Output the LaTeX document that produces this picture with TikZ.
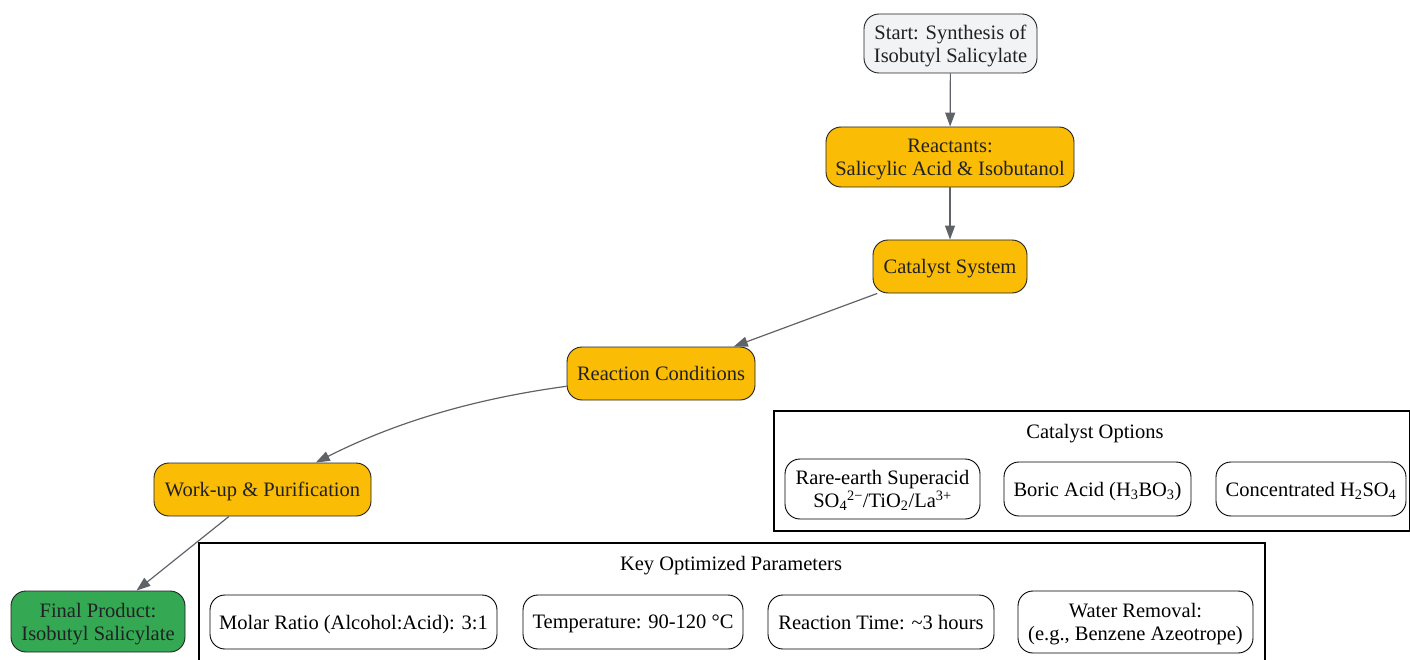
\documentclass[tikz,border=0pt]{standalone}
\usepackage{fontspec}
\setmainfont{Liberation Serif}
\usetikzlibrary{arrows.meta}
\definecolor{amber}{HTML}{FBBC05}
\definecolor{gstart}{HTML}{F1F3F4}
\definecolor{gfinal}{HTML}{34A853}
\definecolor{edgec}{HTML}{5F6368}
\definecolor{txt}{HTML}{202124}
\begin{document}
\begin{tikzpicture}[x=1pt,y=-1pt,
  box/.style={draw=txt, line width=0.9pt, rounded corners=15pt, align=center, inner sep=0pt,
    font=\fontsize{20.5}{23}\selectfont, text=txt, text depth=0pt},
  pbox/.style={box, fill=white, draw=black, text=black},
  cluster/.style={draw=black, line width=1.1pt, inner sep=0pt},
  ctitle/.style={font=\fontsize{20.5}{23}\selectfont, inner sep=0pt},
  flow/.style={draw=edgec, line width=1.2pt, -{Triangle[length=14pt,width=10pt]}}]
\useasboundingbox (0,0) rectangle (1410,660);
% clusters
\node[cluster, minimum width=636pt, minimum height=120pt] (copt) at (1092,471) {};
\node[ctitle] (copttitle) at (1095,434) {Catalyst Options};
\node[cluster, minimum width=1066pt, minimum height=120pt] (kop) at (732,603) {};
\node[ctitle] (koptitle) at (731,566) {Key Optimized Parameters};
% main flow
\node[box, fill=gstart, minimum width=173pt, minimum height=59pt] (start) at (950.5,43.5) {Start: Synthesis of\\Isobutyl Salicylate};
\node[box, fill=amber, minimum width=248pt, minimum height=60pt] (react) at (950,157) {Reactants:\\Salicylic Acid \& Isobutanol};
\node[box, fill=amber, minimum width=154pt, minimum height=53pt] (cat) at (950,266.5) {Catalyst System};
\node[box, fill=amber, minimum width=188pt, minimum height=53pt] (rc) at (661,373.5) {Reaction Conditions};
\node[box, fill=amber, minimum width=217pt, minimum height=53pt] (wu) at (262.5,489.5) {Work-up \& Purification};
\node[box, fill=gfinal, minimum width=174pt, minimum height=61pt] (fin) at (98,621.5) {Final Product:\\Isobutyl Salicylate};
% catalyst options
\node[pbox, minimum width=195pt, minimum height=60pt] (rare) at (882.5,489) {Rare-earth Superacid\\SO\textsubscript{4}\textsuperscript{2−}/TiO\textsubscript{2}/La\textsuperscript{3+}};
\node[pbox, minimum width=187pt, minimum height=54pt] (boric) at (1097.5,489) {Boric Acid (H\textsubscript{3}BO\textsubscript{3})};
\node[pbox, minimum width=190pt, minimum height=54pt] (conc) at (1311,489) {Concentrated H\textsubscript{2}SO\textsubscript{4}};
% parameters
\node[pbox, minimum width=287pt, minimum height=54pt] (molar) at (353.5,622) {Molar Ratio (Alcohol:Acid): 3:1};
\node[pbox, minimum width=220pt, minimum height=54pt] (temp) at (633,622) {Temperature: 90-120 °C};
\node[pbox, minimum width=226pt, minimum height=54pt] (rtime) at (881,622) {Reaction Time: \textasciitilde3 hours};
\node[pbox, minimum width=235pt, minimum height=62pt] (water) at (1135.5,622) {Water Removal:\\(e.g., Benzene Azeotrope)};
% edges
\draw[flow] (start) -- (react);
\draw[flow] (react) -- (cat);
\draw[flow] (cat) -- (rc);
\draw[flow] (rc) .. controls (480,398) and (400,420) .. (wu);
\draw[flow] (wu) -- (fin);
\end{tikzpicture}
\end{document}
